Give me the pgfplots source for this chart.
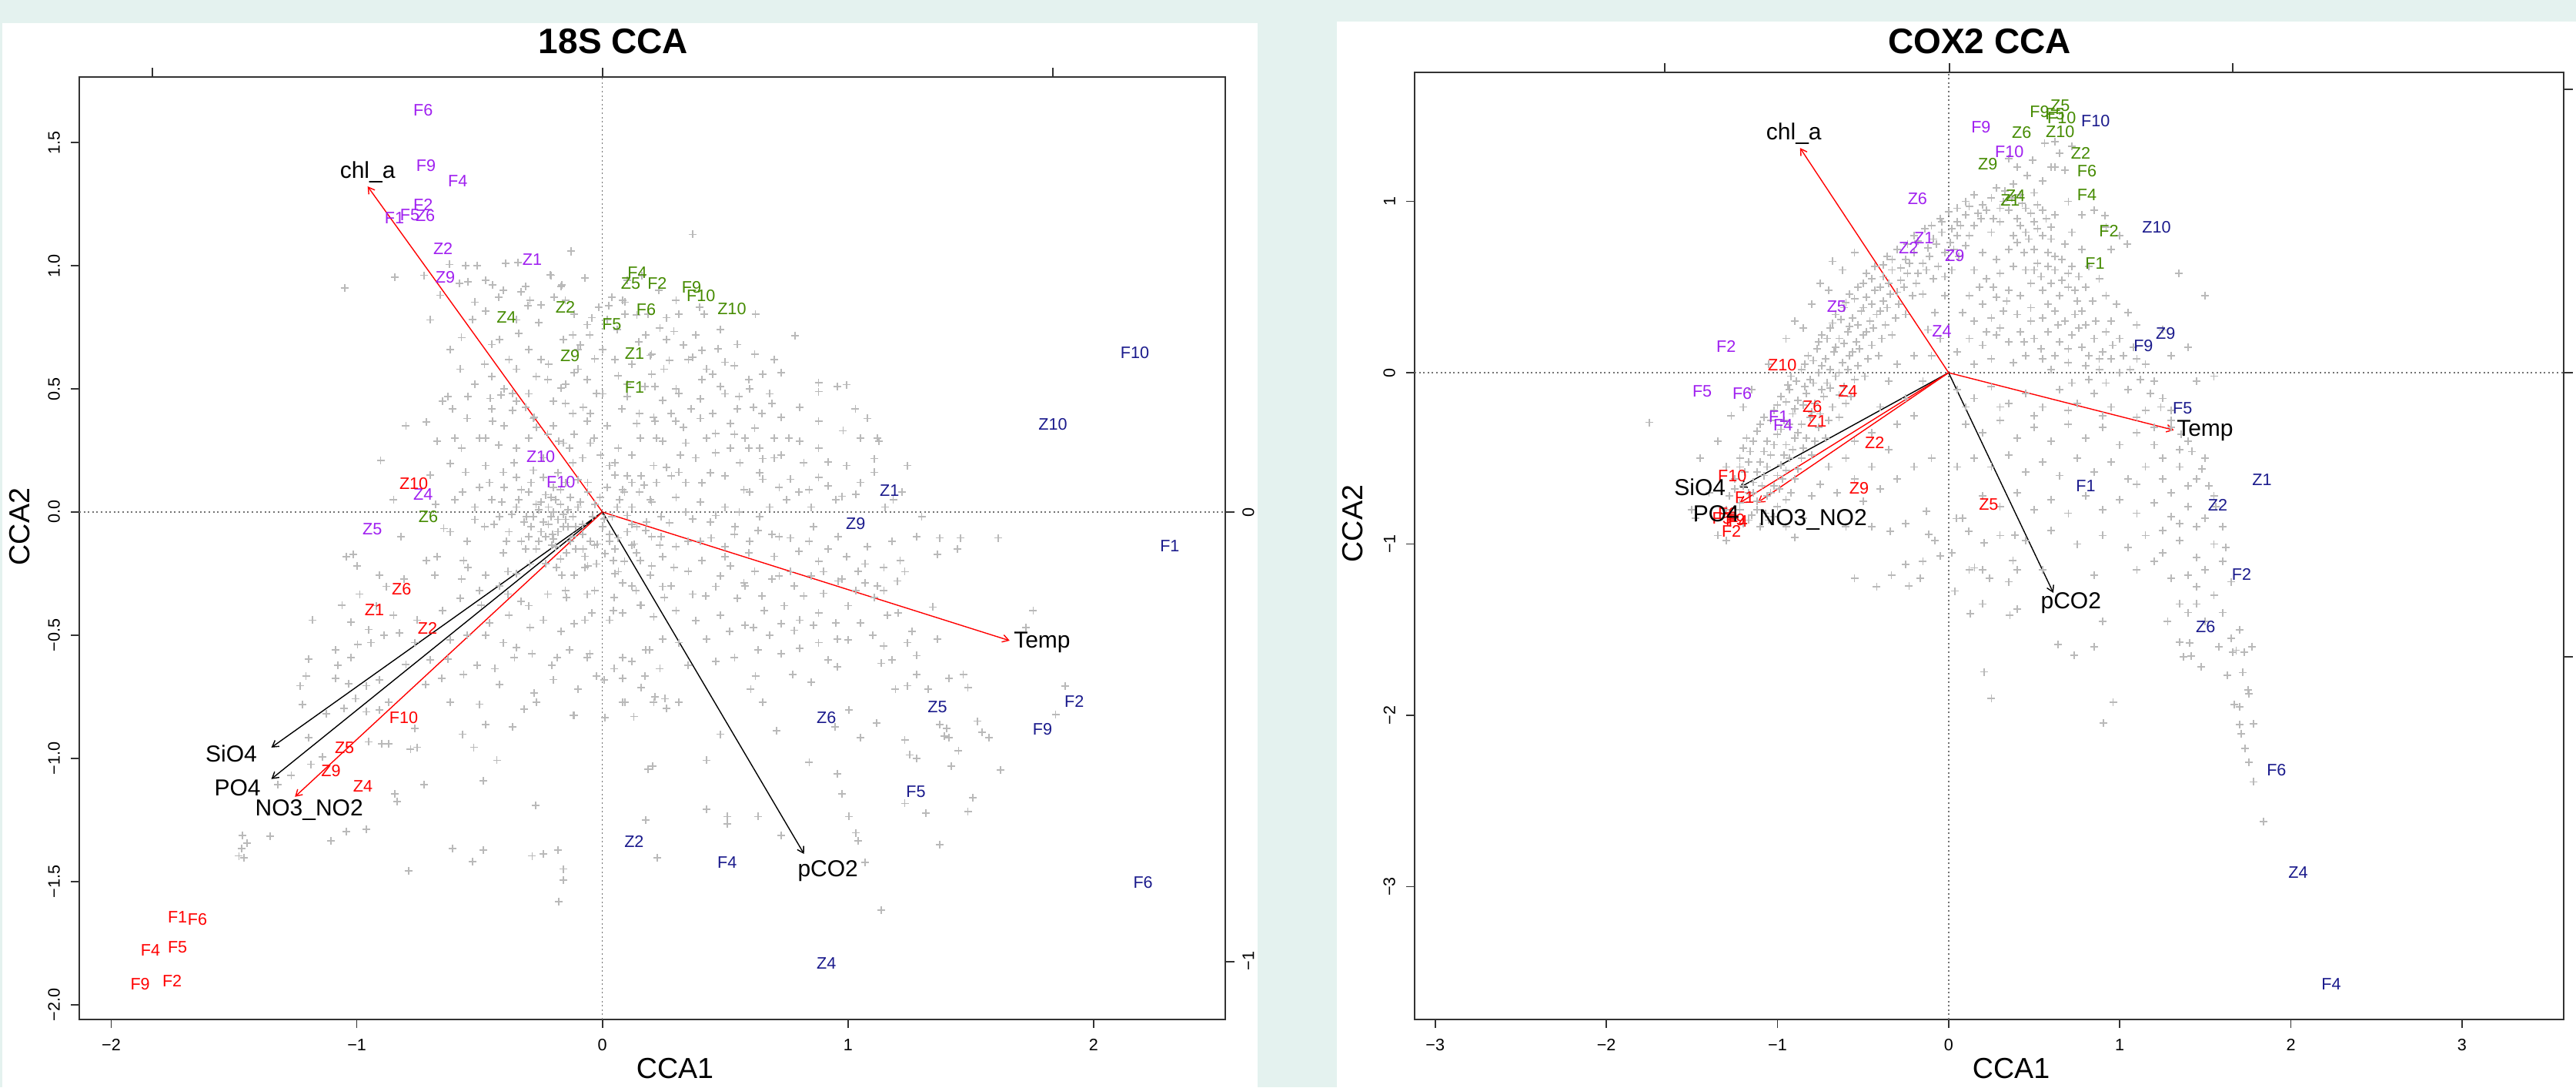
\documentclass[border=0pt]{standalone}
\usepackage{fontspec}
\setmainfont{Liberation Sans}
\usepackage{pgfplots}
\pgfplotsset{compat=1.18}
\usetikzlibrary{arrows.meta}
\definecolor{mint}{RGB}{228,242,239}
\definecolor{rpurple}{HTML}{A020F0}
\definecolor{rgreen}{HTML}{458B00}
\definecolor{rblue}{HTML}{1A1A8C}
\definecolor{rred}{HTML}{FF0000}
\definecolor{rgrey}{HTML}{B9B9B9}
\tikzset{zl/.style={black!55, line width=0.35pt, dash pattern=on 0.5pt off 0.9pt}}
\pgfplotsset{
  cca/.style={scale only axis, anchor=south west,
    axis line style={black!80,line width=0.4pt},
    tick style={black!80,line width=0.4pt},
    tick align=outside, tick pos=left, major tick length=2.75pt,
    ticklabel style={font=\fontsize{5.4}{6}\selectfont},
    yticklabel style={rotate=90, anchor=south},
    clip=false},
  spp/.style={only marks, mark=+, mark size=1.25pt, color=rgrey, mark options={line width=0.45pt}},
  lab/.style={only marks, mark=none, nodes near coords, point meta=explicit symbolic,
    every node near coord/.append style={anchor=center, inner sep=0pt, font=\fontsize{5.4}{6}\selectfont, text=#1}},
  env/.style={#1, line width=0.35pt, -{Straight Barb[length=2pt,width=2.4pt]}},
  envlab/.style={only marks, mark=none, nodes near coords, point meta=explicit symbolic,
    every node near coord/.append style={anchor=center, inner sep=0pt, font=\fontsize{7.5}{8}\selectfont, text=black}},
}
\begin{document}
\begin{tikzpicture}
\fill[mint] (0pt,0pt) rectangle (836.75pt,-353pt);
\fill[white] (0.75pt,-7.5pt) rectangle (408.5pt,-353pt);
\fill[white] (434.25pt,-7pt) rectangle (836.75pt,-353pt);

% ================= LEFT: 18S CCA =================
\begin{axis}[cca, at={(25.75pt,-331pt)}, width=372.25pt, height=306pt,
  xmin=-2.13, xmax=2.536, ymin=-2.06, ymax=1.766,
  xtick={-2,-1,0,1,2}, xticklabels={−2,−1,0,1,2},
  ytick={-2,-1.5,-1,-0.5,0,0.5,1,1.5}, yticklabels={−2.0,−1.5,−1.0,−0.5,0.0,0.5,1.0,1.5}]
\draw[zl] (axis cs:-2.13,0) -- (axis cs:2.536,0);
\draw[zl] (axis cs:0,-2.06) -- (axis cs:0,1.766);
\addplot[spp] table {
x y
-0.128 1.058
-0.623 1.005
-0.556 1.001
-0.511 1.001
-0.394 1.009
-0.345 1.012
-0.209 0.961
-0.070 0.950
-0.844 0.954
-0.727 0.961
-0.475 0.942
-0.448 0.921
-0.403 0.901
-0.421 0.873
-0.583 0.929
-0.547 0.935
-0.313 0.915
-0.331 0.894
-0.295 0.859
-0.304 0.838
-0.169 0.915
-0.196 0.873
-0.151 0.859
0.038 0.873
0.083 0.859
-0.016 0.831
-0.520 0.852
-0.475 0.817
-0.259 0.768
-0.340 0.726
-0.115 0.803
-0.043 0.789
-0.061 0.761
-0.574 0.708
-0.529 0.782
-1.05 0.91
0.367 1.127
-0.127 1.061
-0.213 0.963
-0.165 0.922
0.091 0.852
0.025 0.838
0.091 0.803
0.186 0.803
0.262 0.789
0.310 0.803
0.395 0.831
0.414 0.803
0.623 0.803
0.785 0.716
0.234 0.747
0.177 0.719
0.291 0.733
0.148 0.691
0.329 0.677
0.405 0.656
0.471 0.663
0.196 0.636
0.272 0.615
0.367 0.629
-0.051 0.719
-0.089 0.677
-0.032 0.622
0.424 0.580
0.500 0.608
0.538 0.594
0.595 0.538
0.652 0.559
0.728 0.566
0.880 0.524
0.956 0.510
0.994 0.517
0.880 0.489
-0.42 0.70
-0.38 0.62
-0.30 0.66
-0.22 0.60
-0.16 0.70
-0.10 0.58
0.00 0.66
0.06 0.74
0.12 0.60
-0.27 0.55
-0.48 0.60
-0.62 0.66
-0.70 0.78
-0.66 0.88
0.20 0.56
0.10 0.94
0.16 0.96
0.23 0.90
0.30 0.86
0.48 0.74
0.55 0.68
0.62 0.64
0.70 0.62
-0.628 0.468
-0.547 0.468
-0.457 0.461
-0.412 0.475
-0.367 0.482
-0.610 0.419
-0.448 0.370
-0.367 0.412
-0.313 0.426
-0.277 0.384
-0.718 0.366
-0.673 0.287
-0.574 0.259
-0.475 0.301
-0.421 0.273
-0.349 0.259
-0.619 0.196
-0.556 0.161
-0.475 0.189
-0.403 0.161
-0.903 0.210
-0.268 0.343
-0.223 0.315
-0.178 0.287
-0.133 0.259
-0.115 0.315
-0.061 0.370
-0.034 0.301
-0.007 0.231
0.029 0.189
0.065 0.259
-0.223 0.538
-0.169 0.503
-0.115 0.566
-0.061 0.538
-0.151 0.440
-0.079 0.426
-0.025 0.482
0.065 0.552
0.101 0.468
0.173 0.510
0.245 0.454
0.209 0.384
0.299 0.370
0.155 0.301
0.245 0.287
0.317 0.231
0.281 0.147
0.209 0.189
0.101 0.147
0.215 0.510
0.310 0.482
0.405 0.538
0.481 0.510
0.557 0.468
0.614 0.426
0.690 0.440
0.728 0.384
0.804 0.426
0.880 0.370
0.215 0.370
0.329 0.343
0.424 0.301
0.538 0.315
0.595 0.259
0.652 0.217
0.728 0.231
0.804 0.287
0.880 0.259
0.918 0.203
0.994 0.189
1.051 0.301
1.127 0.287
1.108 0.217
1.241 0.189
0.310 0.161
0.405 0.119
0.500 0.147
0.576 0.091
0.652 0.133
0.766 0.133
0.842 0.091
0.918 0.105
0.975 0.064
1.032 0.071
1.108 0.161
1.184 0.050
0.120 0.231
0.082 0.091
0.196 0.050
0.158 0.147
0.36 0.42
0.45 0.40
0.52 0.36
0.62 0.34
0.70 0.30
0.38 0.22
0.46 0.24
0.56 0.20
0.64 0.16
0.72 0.10
0.30 0.06
0.40 0.04
0.50 0.02
-0.30 0.30
-0.24 0.22
-0.18 0.16
-0.12 0.20
-0.06 0.12
-0.36 0.20
-0.50 0.10
-0.70 0.15
-0.80 0.35
-0.85 0.05
-0.45 0.05
-0.40 0.10
-0.35 0.02
-0.30 0.08
-0.28 -0.02
-0.25 0.04
-0.22 -0.05
-0.20 0.00
-0.18 -0.08
-0.17 0.03
-0.15 -0.03
-0.13 0.06
-0.12 -0.10
-0.10 0.02
-0.08 -0.05
-0.06 0.08
-0.05 -0.12
-0.03 0.03
0.00 -0.06
0.02 0.10
0.04 -0.02
0.07 0.05
0.10 -0.08
0.12 0.02
0.15 0.08
0.18 -0.04
0.20 0.04
0.24 -0.10
-0.38 -0.08
-0.33 -0.12
-0.27 -0.15
-0.23 -0.10
-0.19 -0.14
-0.24 -0.04
-0.21 -0.02
-0.19 0.05
-0.16 -0.01
-0.26 0.01
-0.29 -0.06
-0.14 -0.06
-0.11 -0.15
-0.07 -0.18
-0.02 -0.13
0.05 -0.15
0.09 -0.20
-0.42 -0.02
-0.48 -0.06
-0.52 0.02
-0.55 -0.12
-0.60 0.05
-0.62 -0.08
-0.68 0.03
-0.35 0.14
-0.28 0.17
-0.10 0.13
0.05 0.15
0.22 0.12
-0.20 0.10
-0.31 -0.02
-0.23 0.07
-0.646 -0.067
-0.821 -0.100
-1.042 -0.181
-1.015 -0.173
-1.000 -0.219
-0.718 -0.196
-0.673 -0.181
-0.682 -0.257
-0.565 -0.196
-0.547 -0.226
-0.574 -0.272
-0.907 -0.257
-0.880 -0.302
-0.808 -0.272
-1.060 -0.378
-0.988 -0.333
-1.180 -0.439
-1.024 -0.447
-0.952 -0.477
-0.889 -0.500
-0.826 -0.492
-0.754 -0.439
-0.763 -0.530
-1.087 -0.560
-1.078 -0.621
-1.024 -0.591
-0.997 -0.538
-0.943 -0.530
-1.195 -0.598
-1.207 -0.667
-1.231 -0.705
-1.222 -0.781
-1.087 -0.675
-1.033 -0.697
-1.006 -0.758
-0.961 -0.705
-0.907 -0.682
-1.123 -0.819
-1.051 -0.796
-0.961 -0.811
-0.907 -0.804
-0.871 -0.773
-1.195 -0.917
-1.141 -0.993
-1.267 -1.069
-1.321 -1.107
-1.186 -1.024
-0.952 -0.933
-0.898 -0.940
-0.871 -0.940
-0.763 -0.879
-0.754 -0.955
-0.781 -0.963
-0.844 -1.145
-0.835 -1.175
-0.727 -1.107
-1.042 -1.297
-0.961 -1.289
-1.105 -1.335
-1.353 -1.317
-1.465 -1.312
-1.447 -1.343
-1.468 -1.365
-1.459 -1.403
-1.480 -1.396
-0.610 -1.365
-0.484 -1.373
-0.529 -1.419
-0.790 -1.456
-0.286 -1.396
-0.241 -1.388
-0.182 -1.373
-0.160 -1.449
-0.160 -1.494
-0.178 -1.581
-0.272 -1.191
-0.430 -1.008
-0.484 -1.092
-0.524 -0.955
-0.569 -0.902
-0.475 -0.864
-0.367 -0.872
-0.619 -0.773
-0.655 -0.674
-0.628 -0.598
-0.565 -0.659
-0.277 -0.735
-0.268 -0.773
-0.115 -0.826
0.011 -0.834
0.128 -0.830
0.092 -0.773
-0.511 -0.621
-0.439 -0.636
-0.358 -0.591
-0.286 -0.576
-0.205 -0.621
-0.133 -0.560
-0.061 -0.591
-0.025 -0.667
0.047 -0.636
0.119 -0.606
0.191 -0.560
0.245 -0.515
0.173 -0.667
0.254 -0.758
0.209 -0.773
-0.475 -0.500
-0.403 -0.530
-0.295 -0.469
-0.241 -0.439
-0.169 -0.484
-0.115 -0.454
-0.043 -0.409
0.029 -0.439
0.083 -0.409
0.155 -0.378
0.209 -0.424
-0.493 -0.378
-0.385 -0.333
-0.331 -0.363
-0.223 -0.333
-0.151 -0.318
-0.061 -0.333
0.047 -0.348
0.137 -0.318
0.245 -0.302
-0.475 -0.257
-0.385 -0.242
-0.295 -0.211
-0.187 -0.226
-0.115 -0.257
-0.025 -0.211
0.065 -0.242
0.155 -0.196
0.245 -0.181
-0.403 -0.166
-0.313 -0.150
-0.205 -0.135
-0.079 -0.150
0.029 -0.120
0.119 -0.135
1.374 -0.105
1.459 -0.105
1.611 -0.105
1.364 -0.173
1.446 -0.150
1.212 -0.196
1.231 -0.242
1.146 -0.226
1.070 -0.211
0.994 -0.181
0.918 -0.150
0.842 -0.120
0.766 -0.105
0.690 -0.090
1.070 -0.287
1.146 -0.318
1.203 -0.409
1.260 -0.484
1.241 -0.530
1.160 -0.420
1.108 -0.348
1.032 -0.318
0.975 -0.272
0.899 -0.242
1.345 -0.386
1.364 -0.515
1.279 -0.583
1.146 -0.545
1.136 -0.614
1.412 -0.674
1.469 -0.659
1.488 -0.712
1.725 -0.469
1.754 -0.401
1.883 -0.706
1.845 -0.822
1.193 -0.720
1.241 -0.705
1.326 -0.720
1.374 -0.864
1.402 -0.879
1.393 -0.910
1.412 -0.917
1.526 -0.849
1.545 -0.895
1.573 -0.917
1.621 -1.046
1.450 -0.970
1.421 -1.031
1.250 -0.986
1.279 -1.001
1.231 -0.925
1.117 -0.857
1.051 -0.917
1.507 -1.160
1.488 -1.216
1.374 -1.350
1.317 -1.221
1.231 -1.183
1.003 -1.236
1.032 -1.302
1.041 -1.335
0.975 -1.145
0.956 -1.062
0.946 -0.872
1.003 -0.803
0.842 -1.016
0.709 -0.887
0.604 -0.720
1.136 -1.616
1.070 -1.423
0.424 -1.008
0.186 -1.043
0.205 -1.031
0.177 -1.251
0.224 -1.403
0.424 -1.206
0.509 -1.236
0.509 -1.266
0.633 -1.236
0.728 -1.312
0.481 -0.902
0.652 -0.773
0.851 -0.690
0.956 -0.629
0.775 -0.659
0.623 -0.667
0.082 -0.773
0.215 -0.750
0.262 -0.796
0.310 -0.773
-0.118 -0.826
0.006 -0.682
0.082 -0.674
0.158 -0.712
0.234 -0.636
0.348 -0.621
0.462 -0.606
0.538 -0.591
0.633 -0.560
0.728 -0.576
0.804 -0.553
0.880 -0.530
0.956 -0.515
-0.184 -0.591
-0.051 -0.576
0.082 -0.591
0.177 -0.560
0.310 -0.530
0.424 -0.515
0.519 -0.484
0.614 -0.469
0.728 -0.454
0.804 -0.439
0.880 -0.409
-0.070 -0.439
0.044 -0.400
0.158 -0.378
0.253 -0.348
0.367 -0.333
0.462 -0.302
0.576 -0.287
0.690 -0.272
0.766 -0.242
-0.146 -0.348
-0.032 -0.318
0.082 -0.287
0.196 -0.257
0.291 -0.226
0.405 -0.196
0.500 -0.181
0.595 -0.166
-0.165 -0.257
-0.070 -0.226
0.044 -0.196
0.139 -0.166
0.234 -0.135
0.348 -0.120
0.443 -0.105
0.538 -0.090
0.633 -0.074
-0.146 -0.166
-0.032 -0.135
0.063 -0.105
0.177 -0.074
0.272 -0.044
0.367 -0.029
0.462 -0.014
0.557 0.001
-0.203 -0.090
-0.108 -0.059
0.006 -0.029
0.101 -0.014
0.52 -0.22
0.62 -0.24
0.70 -0.18
0.78 -0.30
0.85 -0.26
0.55 -0.35
0.66 -0.40
0.74 -0.38
0.48 -0.42
0.90 -0.33
0.95 -0.45
1.00 -0.38
1.05 -0.45
0.92 -0.60
1.10 -0.50
0.95 0.05
1.05 0.12
1.15 0.02
1.22 0.08
1.30 -0.02
0.85 0.02
0.75 0.05
1.08 0.38
1.12 0.30
0.98 0.33
1.03 0.42
};
\addplot[spp] table {
x y
-0.32 -0.04
-0.27 0.03
-0.22 0.02
-0.18 -0.03
-0.14 0.01
-0.25 -0.08
-0.20 -0.11
-0.16 -0.06
-0.12 -0.02
-0.09 0.04
-0.30 -0.10
-0.34 0.05
-0.37 -0.01
-0.41 0.04
-0.44 -0.05
-0.21 0.06
-0.17 0.09
-0.13 -0.12
-0.08 -0.09
-0.04 -0.02
-0.01 0.06
0.03 -0.09
0.06 0.02
-0.26 -0.12
-0.29 0.12
-0.24 0.14
-0.33 0.09
-0.39 -0.12
-0.46 0.12
-0.52 -0.03
-0.57 0.08
-0.15 0.12
-0.06 -0.22
0.01 -0.17
-0.17 -0.19
-0.23 -0.21
0.14 -0.06
0.09 0.08
0.17 0.11
0.13 -0.13
-0.45 0.55
-0.40 0.50
-0.35 0.58
-0.30 0.48
-0.25 0.62
-0.20 0.45
-0.15 0.52
-0.10 0.66
-0.05 0.40
0.00 0.48
0.05 0.62
0.10 0.52
0.15 0.40
0.20 0.64
0.25 0.58
0.30 0.50
0.35 0.62
0.40 0.46
0.45 0.56
0.50 0.48
0.55 0.42
0.60 0.50
0.65 0.40
0.68 0.48
-0.55 0.38
-0.50 0.30
-0.45 0.42
-0.40 0.35
-0.35 0.45
-0.28 0.38
-0.20 0.35
-0.12 0.40
-0.05 0.28
0.02 0.35
0.08 0.42
0.14 0.36
0.22 0.30
0.28 0.40
0.34 0.28
0.40 0.38
0.46 0.32
0.52 0.26
0.58 0.30
0.64 0.26
0.70 0.22
0.76 0.30
0.82 0.20
0.88 0.14
-0.60 0.30
-0.65 0.45
-0.52 0.52
-0.58 0.58
-0.45 0.68
-0.35 0.78
-0.25 0.84
-0.12 0.72
0.02 0.78
0.14 0.80
0.26 0.70
0.38 0.72
-0.08 0.22
-0.16 0.28
0.05 0.20
0.12 0.12
0.26 0.18
0.34 0.12
0.44 0.16
0.60 0.08
0.68 0.02
0.80 0.08
0.05 -0.25
0.12 -0.30
0.20 -0.22
0.28 -0.30
0.35 -0.24
0.42 -0.34
0.48 -0.26
0.58 -0.30
0.65 -0.34
0.72 -0.26
0.82 -0.34
0.88 -0.20
0.96 -0.28
1.04 -0.24
1.12 -0.30
1.20 -0.28
0.30 -0.40
0.38 -0.44
0.58 -0.46
0.68 -0.50
0.78 -0.48
0.86 -0.46
1.00 -0.52
1.18 -0.60
1.28 -0.66
0.40 -0.12
0.50 -0.14
0.60 -0.12
0.72 -0.10
0.80 -0.16
0.30 -0.14
0.20 -0.10
0.12 -0.05
0.24 -0.02
0.34 0.00
0.44 -0.04
0.54 -0.06
0.64 -0.02
0.86 -0.06
0.96 -0.10
1.08 -0.14
1.18 -0.12
1.28 -0.10
-0.35 -0.25
-0.42 -0.30
-0.50 -0.32
-0.58 -0.35
-0.65 -0.40
-0.30 -0.38
-0.38 -0.42
-0.46 -0.45
-0.55 -0.50
-0.62 -0.52
-0.70 -0.60
-0.35 -0.55
-0.42 -0.70
-0.50 -0.78
-0.20 -0.68
-0.10 -0.72
-0.32 -0.80
-0.72 -0.70
-0.80 -0.62
-0.85 -0.42
-0.92 -0.38
};
\addplot[lab=rpurple] table[meta=l] {
x y l
-0.730 1.631 F6
-0.718 1.406 F9
-0.589 1.344 F4
-0.730 1.247 F2
-0.784 1.206 F5
-0.721 1.203 Z6
-0.847 1.194 F1
-0.649 1.069 Z2
-0.640 0.953 Z9
-0.286 1.025 Z1
-0.251 0.225 Z10
-0.169 0.122 F10
-0.730 0.073 Z4
-0.937 -0.070 Z5
};
\addplot[lab=rgreen] table[meta=l] {
x y l
0.142 0.973 F4
0.115 0.928 Z5
0.223 0.928 F2
0.178 0.822 F6
-0.151 0.831 Z2
-0.391 0.792 Z4
0.038 0.762 F5
0.131 0.645 Z1
-0.132 0.634 Z9
0.131 0.506 F1
-0.709 -0.019 Z6
0.363 0.912 F9
0.401 0.878 F10
0.527 0.825 Z10
};
\addplot[lab=rblue] table[meta=l] {
x y l
2.168 0.647 F10
1.834 0.356 Z10
1.169 0.088 Z1
1.031 -0.047 Z9
2.310 -0.138 F1
1.921 -0.769 F2
1.792 -0.881 F9
1.364 -0.791 Z5
0.912 -0.834 Z6
1.276 -1.134 F5
0.129 -1.338 Z2
0.508 -1.422 F4
2.201 -1.503 F6
0.912 -1.833 Z4
};
\addplot[lab=rred] table[meta=l] {
x y l
-0.768 0.116 Z10
-0.818 -0.313 Z6
-0.928 -0.397 Z1
-0.712 -0.472 Z2
-0.809 -0.834 F10
-1.050 -0.956 Z5
-1.105 -1.050 Z9
-0.975 -1.113 Z4
-1.730 -1.644 F1
-1.649 -1.653 F6
-1.840 -1.780 F4
-1.730 -1.768 F5
-1.882 -1.916 F9
-1.752 -1.903 F2
};
\addplot[env=rred] coordinates {(0,0) (-0.956,1.322)};
\addplot[env=rred] coordinates {(0,0) (1.658,-0.522)};
\addplot[env=black] coordinates {(0,0) (0.821,-1.388)};
\addplot[env=black] coordinates {(0,0) (-1.348,-0.956)};
\addplot[env=black] coordinates {(0,0) (-1.348,-1.084)};
\addplot[env=rred] coordinates {(0,0) (-1.252,-1.156)};
\addplot[envlab] table[meta=l] {
x y l
-0.956 1.380 chl\_a
1.790 -0.530 Temp
0.918 -1.456 pCO2
-1.511 -0.980 SiO4
-1.486 -1.120 PO4
-1.194 -1.210 NO3\_NO2
};
\end{axis}

% ================= RIGHT: COX2 CCA =================
\begin{axis}[cca, at={(459.5pt,-331pt)}, width=373.25pt, height=307.5pt,
  xmin=-3.12, xmax=3.594, ymin=-3.775, ymax=1.753,
  xtick={-3,-2,-1,0,1,2,3}, xticklabels={−3,−2,−1,0,1,2,3},
  ytick={-3,-2,-1,0,1}, yticklabels={−3,−2,−1,0,1}]
\draw[zl] (axis cs:-3.12,0) -- (axis cs:3.594,0);
\draw[zl] (axis cs:0,-3.775) -- (axis cs:0,1.753);
\addplot[spp] table {
x y
-1.30 -0.80
-1.25 -0.85
-1.20 -0.88
-1.15 -0.83
-1.10 -0.90
-1.05 -0.86
-1.28 -0.72
-1.22 -0.76
-1.17 -0.70
-1.12 -0.75
-1.06 -0.72
-1.00 -0.78
-1.25 -0.62
-1.19 -0.58
-1.14 -0.64
-1.08 -0.60
-1.02 -0.66
-0.97 -0.62
-0.92 -0.70
-1.22 -0.50
-1.16 -0.46
-1.10 -0.52
-1.04 -0.48
-0.98 -0.54
-0.93 -0.50
-0.88 -0.56
-1.18 -0.38
-1.12 -0.34
-1.06 -0.40
-1.00 -0.36
-0.95 -0.42
-0.90 -0.38
-0.85 -0.44
-0.80 -0.48
-1.08 -0.26
-1.02 -0.22
-0.96 -0.28
-0.91 -0.24
-0.86 -0.30
-0.81 -0.26
-0.76 -0.32
-0.72 -0.38
-0.98 -0.14
-0.93 -0.10
-0.88 -0.16
-0.83 -0.12
-0.78 -0.18
-0.73 -0.14
-0.68 -0.20
-0.64 -0.26
-0.92 -0.02
-0.86 0.02
-0.81 -0.04
-0.76 0.00
-0.71 -0.06
-0.66 -0.02
-0.61 -0.08
-0.57 -0.14
-0.82 0.10
-0.77 0.14
-0.72 0.08
-0.67 0.12
-0.62 0.06
-0.58 0.10
-0.53 0.04
-0.49 -0.02
-0.74 0.22
-0.69 0.26
-0.64 0.20
-0.59 0.24
-0.54 0.18
-0.50 0.22
-0.45 0.16
-0.41 0.10
-0.66 0.34
-0.61 0.38
-0.56 0.32
-0.51 0.36
-0.46 0.30
-0.42 0.34
-0.37 0.28
-0.33 0.22
-0.58 0.46
-0.53 0.50
-0.48 0.44
-0.43 0.48
-0.38 0.42
-0.34 0.46
-0.29 0.40
-0.25 0.34
-0.48 0.58
-0.43 0.62
-0.38 0.56
-0.33 0.60
-0.28 0.54
-0.24 0.58
-0.19 0.52
-0.15 0.46
-0.36 0.68
-0.30 0.72
-0.25 0.66
-0.20 0.70
-0.15 0.64
-0.11 0.68
-0.06 0.62
-0.02 0.56
-0.20 0.80
-0.14 0.84
-0.09 0.78
-0.04 0.82
0.01 0.76
0.05 0.80
0.10 0.74
-0.05 0.90
0.00 0.94
0.05 0.88
0.10 0.92
0.15 0.86
0.19 0.90
0.10 1.00
0.15 1.04
0.20 0.98
0.25 1.02
0.30 0.96
0.33 1.06
0.38 1.10
0.42 1.04
0.28 1.08
-0.95 0.20
-1.05 0.05
-1.15 -0.10
-0.90 0.30
-0.80 0.40
-0.70 0.48
-0.62 0.60
-0.55 0.70
-0.68 0.65
-0.75 0.52
-0.85 0.26
-1.27 -0.25
-1.20 -0.20
-1.35 -0.40
-1.30 -0.55
-1.45 -0.50
-1.40 -0.70
-1.48 -0.85
-1.50 -0.80
-1.35 -0.95
-1.30 -0.98
-1.75 -0.29
-0.40 -0.20
-0.45 -0.35
-0.55 -0.40
-0.60 -0.50
-0.70 -0.55
-0.75 -0.65
-0.80 -0.72
-0.85 -0.85
-0.95 -0.90
-0.90 -0.96
-0.65 -0.70
-0.55 -0.62
-0.45 -0.55
-0.35 -0.45
-0.30 -0.30
-0.20 -0.25
-0.25 -0.15
-0.15 -0.05
-0.10 0.10
-0.05 0.20
-0.35 -0.05
-0.30 0.05
-0.20 0.10
-0.12 0.25
-0.08 0.35
-0.02 0.45
0.02 0.60
0.06 0.68
-0.50 -0.75
-0.40 -0.68
-0.30 -0.62
-0.20 -0.55
-0.10 -0.50
-0.60 -0.90
-0.45 -0.90
-0.25 -0.88
-0.55 -1.20
-0.42 -1.25
-0.25 -1.12
-0.15 -1.10
-0.08 -0.98
0.35 0.95
0.40 0.90
0.45 0.96
0.30 0.88
0.25 0.82
0.50 0.88
0.55 0.95
0.45 0.82
0.40 0.76
0.50 0.72
0.55 0.80
0.60 0.85
0.35 0.72
0.28 0.66
0.20 0.70
0.15 0.60
0.22 0.55
0.30 0.58
0.38 0.62
0.45 0.60
0.52 0.64
0.58 0.70
0.62 0.60
0.66 0.66
0.70 0.58
0.48 0.52
0.55 0.48
0.60 0.52
0.65 0.45
0.70 0.50
0.75 0.42
0.42 0.45
0.35 0.48
0.28 0.44
0.20 0.40
0.12 0.45
0.08 0.35
0.15 0.30
0.25 0.32
0.32 0.36
0.40 0.34
0.48 0.38
0.55 0.32
0.62 0.36
0.68 0.30
0.74 0.34
0.80 0.28
0.58 0.24
0.50 0.20
0.42 0.24
0.35 0.18
0.28 0.22
0.20 0.16
0.12 0.20
0.05 0.12
0.65 0.18
0.72 0.22
0.78 0.15
0.85 0.20
0.90 0.12
0.62 0.10
0.70 0.06
0.80 0.04
0.88 0.02
0.95 0.08
0.55 0.08
0.45 0.10
0.38 0.06
0.25 0.08
0.15 0.05
0.60 0.78
0.68 0.75
0.72 0.82
0.78 0.72
0.82 0.62
0.88 0.55
0.92 0.45
0.98 0.40
1.05 0.35
1.10 0.28
0.95 0.30
1.00 0.20
1.08 0.15
1.15 0.05
1.25 0.25
1.30 0.10
1.20 -0.05
1.40 0.15
1.50 0.45
1.45 -0.05
1.55 -0.02
0.50 1.05
0.55 1.12
0.60 1.20
0.65 1.28
0.72 1.32
0.46 1.15
0.40 1.20
0.35 1.25
0.62 1.35
0.70 1.00
0.78 0.92
0.85 0.95
0.92 0.85
0.95 0.72
1.00 0.80
0.561 1.339
0.491 1.239
0.621 1.201
0.681 1.183
0.913 0.917
1.043 0.752
1.344 0.580
0.05 -0.10
0.15 -0.15
0.25 -0.08
0.35 -0.18
0.45 -0.12
0.55 -0.20
0.65 -0.10
0.75 -0.18
0.85 -0.12
0.95 -0.20
1.05 -0.10
1.15 -0.22
1.25 -0.15
0.10 -0.30
0.20 -0.35
0.30 -0.28
0.40 -0.38
0.50 -0.32
0.60 -0.40
0.70 -0.30
0.80 -0.38
0.90 -0.32
1.00 -0.42
1.10 -0.35
1.20 -0.42
1.30 -0.32
1.40 -0.40
0.15 -0.50
0.25 -0.55
0.35 -0.48
0.45 -0.58
0.55 -0.52
0.65 -0.60
0.75 -0.50
0.85 -0.58
0.95 -0.52
1.05 -0.62
1.15 -0.55
1.25 -0.62
1.35 -0.55
1.45 -0.62
1.50 -0.50
0.20 -0.72
0.30 -0.78
0.40 -0.70
0.50 -0.80
0.60 -0.74
0.70 -0.82
0.80 -0.72
0.90 -0.80
1.00 -0.74
1.10 -0.82
1.20 -0.76
1.30 -0.84
1.40 -0.78
1.50 -0.85
1.55 -0.72
0.30 -0.95
0.45 -0.98
0.60 -0.92
0.75 -1.00
0.90 -0.95
1.05 -1.02
1.15 -0.95
1.25 -1.05
1.35 -0.98
1.45 -1.08
1.55 -1.00
1.60 -1.10
0.55 -1.15
0.85 -1.18
1.10 -1.15
1.30 -1.20
1.45 -1.25
1.55 -1.30
1.65 -1.22
1.60 -1.40
1.65 -1.55
1.70 -1.50
1.68 -1.62
1.72 -1.75
1.75 -1.85
1.70 -1.95
1.78 -2.05
1.84 -2.62
1.28 -1.45
1.40 -1.40
1.50 -1.45
1.35 -1.35
1.45 -1.35
0.90 -1.45
0.85 -1.60
0.05 -0.55
0.08 -0.85
0.02 -1.05
0.12 -1.15
0.20 -1.35
0.40 -1.38
0.25 -1.90
0.20 -1.15
0.35 -1.22
0.961 -1.925
0.904 -2.045
1.670 -1.936
1.700 -2.052
1.711 -2.106
1.732 -2.194
1.755 -2.275
1.782 -2.388
1.755 -1.875
1.629 -1.766
1.476 -1.718
1.373 -1.659
1.419 -1.652
1.350 -1.571
1.407 -1.576
1.579 -1.598
1.659 -1.630
1.727 -1.630
1.773 -1.598
0.641 -1.587
0.733 -1.648
0.207 -1.746
-0.334 -1.183
-0.231 -1.244
-0.167 -1.198
-0.050 -1.069
0.035 -1.274
0.125 -1.406
0.358 -1.416
0.239 -1.198
0.151 -1.139
0.376 -1.095
0.402 -1.150
-0.340 -0.927
-0.115 -0.943
0.118 -0.927
0.208 -0.993
0.389 -0.949
-0.128 -0.807
0.045 -0.851
};
\addplot[spp] table {
x y
-1.27 -0.82
-1.22 -0.80
-1.17 -0.86
-1.12 -0.80
-1.07 -0.82
-1.02 -0.84
-1.25 -0.68
-1.20 -0.66
-1.14 -0.70
-1.09 -0.66
-1.04 -0.70
-0.99 -0.68
-0.95 -0.74
-1.22 -0.55
-1.17 -0.52
-1.12 -0.58
-1.06 -0.55
-1.00 -0.60
-0.95 -0.57
-0.90 -0.62
-1.20 -0.44
-1.14 -0.40
-1.08 -0.46
-1.02 -0.42
-0.96 -0.48
-0.91 -0.45
-0.86 -0.50
-1.10 -0.30
-1.04 -0.28
-0.98 -0.33
-0.93 -0.30
-0.88 -0.35
-0.83 -0.38
-0.78 -0.40
-1.00 -0.19
-0.95 -0.17
-0.90 -0.21
-0.85 -0.19
-0.80 -0.23
-0.75 -0.24
-0.70 -0.28
-0.94 -0.07
-0.89 -0.05
-0.84 -0.08
-0.79 -0.06
-0.74 -0.10
-0.69 -0.09
-0.64 -0.13
-0.60 -0.18
-0.84 0.05
-0.79 0.07
-0.74 0.04
-0.69 0.02
-0.64 0.00
-0.59 0.02
-0.55 -0.04
-0.76 0.18
-0.71 0.20
-0.66 0.15
-0.61 0.17
-0.56 0.12
-0.52 0.14
-0.47 0.08
-0.68 0.29
-0.63 0.31
-0.58 0.27
-0.53 0.28
-0.48 0.24
-0.44 0.26
-0.39 0.20
-0.60 0.41
-0.55 0.43
-0.50 0.38
-0.45 0.40
-0.40 0.36
-0.36 0.38
-0.31 0.32
-0.50 0.52
-0.45 0.55
-0.40 0.50
-0.35 0.52
-0.30 0.47
-0.26 0.50
-0.21 0.45
-0.38 0.63
-0.33 0.66
-0.28 0.61
-0.23 0.64
-0.18 0.58
-0.13 0.60
-0.09 0.55
-0.24 0.75
-0.18 0.77
-0.12 0.73
-0.07 0.75
-0.02 0.70
0.03 0.72
-0.10 0.86
-0.04 0.88
0.02 0.84
0.07 0.86
0.12 0.80
0.05 0.96
0.12 0.97
0.17 0.93
0.22 0.95
0.26 0.90
0.32 1.00
0.37 1.02
0.43 0.99
0.48 0.93
0.52 0.98
0.42 0.86
0.47 0.78
0.52 0.84
0.57 0.90
0.62 0.92
0.38 0.80
0.44 0.70
0.50 0.60
0.54 0.56
0.58 0.62
0.62 0.68
0.66 0.54
0.72 0.62
0.76 0.56
0.74 0.48
0.80 0.50
0.84 0.42
0.78 0.36
0.86 0.30
0.92 0.24
0.96 0.16
1.02 0.10
1.06 0.02
1.12 -0.04
1.18 -0.12
1.24 -0.20
1.30 -0.28
1.36 -0.36
1.42 -0.46
1.48 -0.56
1.52 -0.66
1.56 -0.78
1.60 -0.90
1.62 -1.02
0.58 0.40
0.64 0.28
0.70 0.14
0.76 0.26
0.82 0.10
0.88 0.08
0.48 0.30
0.44 0.18
0.54 0.14
0.60 0.02
0.72 -0.06
0.82 -0.04
0.92 -0.06
1.00 0.00
1.10 0.08
0.30 0.26
0.22 0.24
0.18 0.50
0.26 0.50
0.34 0.42
0.10 -0.20
0.30 -0.20
0.50 -0.25
0.70 -0.22
0.90 -0.25
1.10 -0.26
1.30 -0.22
1.20 -0.32
1.35 -0.45
1.25 -0.50
1.10 -0.65
1.30 -0.70
1.40 -0.66
1.45 -0.90
1.35 -0.88
1.25 -0.92
1.50 -1.15
1.40 -1.18
1.20 -1.10
};
\addplot[lab=rpurple] table[meta=l] {
x y l
0.189 1.434 F9
0.355 1.290 F10
-0.182 1.016 Z6
-0.144 0.786 Z1
-0.234 0.728 Z2
0.036 0.683 Z9
-0.654 0.388 Z5
-0.040 0.243 Z4
-1.300 0.153 F2
-1.440 -0.110 F5
-1.206 -0.120 F6
-0.994 -0.256 F1
-0.967 -0.306 F4
};
\addplot[lab=rgreen] table[meta=l] {
x y l
0.531 1.524 F9
0.652 1.560 Z5
0.621 1.510 F5
0.661 1.488 F10
0.427 1.402 Z6
0.652 1.407 Z10
0.229 1.218 Z9
0.772 1.281 Z2
0.808 1.179 F6
0.808 1.038 F4
0.936 0.827 F2
0.855 0.638 F1
0.391 1.034 Z4
0.360 1.007 Z1
};
\addplot[lab=rblue] table[meta=l] {
x y l
0.859 1.470 F10
1.215 0.849 Z10
1.268 0.229 Z9
1.138 0.157 F9
1.367 -0.207 F5
1.831 -0.625 Z1
0.801 -0.661 F1
1.572 -0.773 Z2
1.712 -1.178 F2
1.502 -1.483 Z6
1.916 -2.319 F6
2.042 -2.919 Z4
2.236 -3.569 F4
};
\addplot[lab=rred] table[meta=l] {
x y l
-0.972 0.045 Z10
-0.589 -0.106 Z4
-0.796 -0.200 Z6
-0.769 -0.283 Z1
-0.432 -0.407 Z2
-1.264 -0.602 F10
-0.523 -0.674 Z9
-1.192 -0.726 F1
0.234 -0.768 Z5
-1.269 -0.926 F2
-1.325 -0.850 F5
-1.291 -0.822 F6
-1.246 -0.858 F9
-1.230 -0.866 F4
};
\addplot[env=rred] coordinates {(0,0) (-0.868,1.312)};
\addplot[env=rred] coordinates {(0,0) (1.316,-0.335)};
\addplot[env=black] coordinates {(0,0) (0.612,-1.285)};
\addplot[env=black] coordinates {(0,0) (-1.221,-0.670)};
\addplot[env=rred] coordinates {(0,0) (-1.221,-0.760)};
\addplot[env=rred] coordinates {(0,0) (-1.116,-0.758)};
\addplot[envlab] table[meta=l] {
x y l
-0.904 1.393 chl\_a
1.498 -0.340 Temp
0.715 -1.344 pCO2
-1.453 -0.670 SiO4
-1.358 -0.822 PO4
-0.792 -0.858 NO3\_NO2
};
\end{axis}

% secondary (biplot) axes ticks
\begin{scope}[black!80, line width=0.4pt]
\draw (25.75pt,-25pt) -- (398pt,-25pt);
\foreach \x in {49.5,195.75,342} \draw (\x pt,-25pt) -- (\x pt,-22pt);
\foreach \y in {-166.25,-312.25} \draw (398pt,\y pt) -- (401pt,\y pt);
\draw (459.5pt,-23.5pt) -- (832.75pt,-23.5pt);
\foreach \x in {540.75,633.25,725.25} \draw (\x pt,-23.5pt) -- (\x pt,-20.5pt);
\foreach \y in {-29,-121,-213.25} \draw (832.75pt,\y pt) -- (835.75pt,\y pt);
\end{scope}
\node[rotate=90, font=\fontsize{5.4}{6}\selectfont] at (405.5pt,-166.25pt) {0};
\node[rotate=90, font=\fontsize{5.4}{6}\selectfont] at (405.5pt,-312pt) {−1};

% titles and axis labels
\node[font=\bfseries\fontsize{11.5}{13}\selectfont] at (199.25pt,-13.5pt) {18S CCA};
\node[font=\bfseries\fontsize{11.5}{13}\selectfont] at (643pt,-13.5pt) {COX2 CCA};
\node[font=\fontsize{9.4}{11}\selectfont] at (219.25pt,-347pt) {CCA1};
\node[font=\fontsize{9.4}{11}\selectfont] at (653.25pt,-347pt) {CCA1};
\node[rotate=90, font=\fontsize{9.4}{11}\selectfont] at (6.5pt,-171pt) {CCA2};
\node[rotate=90, font=\fontsize{9.4}{11}\selectfont] at (439.5pt,-170pt) {CCA2};

\pgfresetboundingbox
\path (0pt,0pt) rectangle (836.75pt,-353pt);
\end{tikzpicture}
\end{document}
